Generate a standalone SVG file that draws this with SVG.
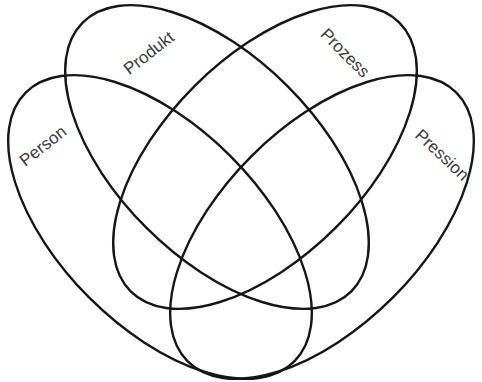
<svg xmlns="http://www.w3.org/2000/svg" width="482" height="382" viewBox="0 0 482 382">
<style>
.e{fill:none;stroke:#161616;stroke-width:2.4}
.t{font-family:"Liberation Sans",Arial,sans-serif;font-size:17px;fill:#3a3a3a;text-anchor:middle;dominant-baseline:central}
</style>
<rect width="482" height="382" fill="#fff"/>
<g id="person"><ellipse class="e" cx="160" cy="227" rx="190" ry="100" transform="rotate(45 160 227)"/><text class="t" transform="translate(43 146) rotate(-38)">Person</text></g>
<g id="produkt"><ellipse class="e" cx="217" cy="157" rx="190" ry="100" transform="rotate(45 217 157)"/><text class="t" transform="translate(149 53) rotate(-38)">Produkt</text></g>
<g id="prozess"><ellipse class="e" cx="265" cy="157" rx="190" ry="100" transform="rotate(-45 265 157)"/><text class="t" transform="translate(345 53) rotate(45)">Prozess</text></g>
<g id="pression"><ellipse class="e" cx="322" cy="227" rx="190" ry="100" transform="rotate(-45 322 227)"/><text class="t" transform="translate(442 155) rotate(43)">Pression</text></g>
<g id="connectors"></g>
</svg>
